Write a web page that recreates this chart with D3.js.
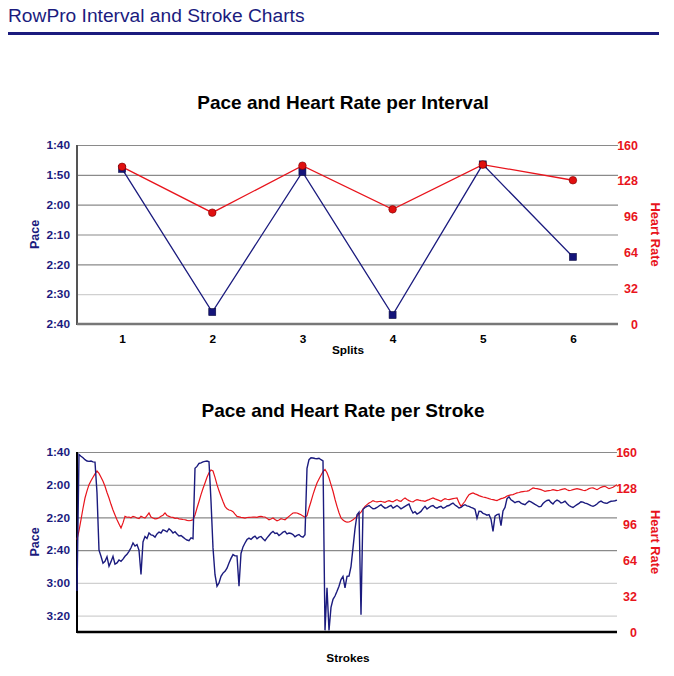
<!DOCTYPE html>
<html><head><meta charset="utf-8">
<script src="https://cdn.jsdelivr.net/npm/d3@7"></script>
<style>
body{margin:0;background:#fff;}
svg{display:block;font-family:"Liberation Sans",Arial,Helvetica,sans-serif;}
</style></head>
<body><svg id="c" width="674" height="676"></svg>
<script>
// ---- Data ----
const splits = [1, 2, 3, 4, 5, 6];
const splitPace = [108, 156, 109, 157, 106.5, 137.5];   // seconds per 500m
const splitHR = [140.5, 99.5, 141.5, 102.5, 142.5, 128.5];
const paceTicks = [100, 110, 120, 130, 140, 150, 160];
const hrTicks = [0, 32, 64, 96, 128, 160];
const strokePaceTicks = [100, 120, 140, 160, 180, 200];

const strokePace = [
 185,101.5,102.6,103.5,104.7,105.5,105.7,105.5,106,106.2,
 125,160,163.7,168,166.8,164,169.8,167,163.7,168.5,
 167.8,166,166.8,165.5,163.7,162.5,160.7,158.5,155.6,157.5,
 156.6,160,174.9,155,151.6,152.8,149.5,150.6,151,152,
 150.1,148.9,149.5,147.6,148.1,148.8,146.9,148,149.5,148.7,
 150.1,151.3,151,152,153,153.8,154.2,152.5,153,110,
 108.8,107,106.7,106,105.7,105.5,106,130,158.6,175,
 182,180,176,174,172.9,171,167.8,165,162.7,163.5,
 163.5,182,162,158,155.6,153.5,152.6,153.4,152.2,151.4,
 153,152,151.6,153,154.2,152.5,151,149.5,148.5,149.8,
 149.5,151,150.1,149,148.5,150,149.5,149.8,150.5,151.8,
 151,150.4,151.6,152,150.5,110,104.7,103.5,103.7,104,
 104.1,103.8,104.7,105.5,209,183,209,195,190,188,
 185.1,182,178,176,183,176,175.8,170,158.6,147,
 138.3,136.8,199.4,135,133.9,133.2,132.7,133.8,134.7,134.5,
 133.9,133,132.2,133.4,134.3,134,133.2,132.6,134.3,133.5,
 132.7,133.6,134.7,134,133.2,132.5,131.8,135,137.3,136.5,
 137.9,137.2,136.3,134.6,133.2,134.8,133.9,133.1,132.7,133.8,
 134.3,133.6,133.2,134.4,133.9,133,132.7,131.9,131.2,132.4,
 133.2,134.2,133.9,132.8,132.2,132.9,133.2,133.8,134.3,135,
 140.4,136.2,136.3,137.5,137.9,138.6,138.3,141,148.5,139.2,
 138.3,138,145,136,133.9,128.5,127.4,129.2,130,131,
 130.4,130.2,131.2,131.8,132.2,131,130,130.5,131.2,132,
 132.7,133.5,133.2,131.5,130.4,129.6,129.4,130.8,131.8,130.2,
 129.4,130,131.2,130.8,130,131.5,132.7,133.4,133.9,133,
 132.2,131.4,130.4,130.6,131.2,131.6,132.2,132.8,133.2,132.6,
 131.8,130.6,130,130.8,131.2,131.4,130.6,130.1,130,129.8,
 129.4
];
const strokeHR = [
 82.2,90,99.8,110,119.1,125.5,131,134.5,137.5,140.5,
 143.1,141,137.5,134,129.5,124,119.1,113.5,108.4,104,
 99.8,96,92.4,97,102.8,102,102.2,101.5,102.8,102.2,
 101.3,100.8,102.8,102,101.3,103.5,105.8,102.2,101.3,100.6,
 100.7,101.6,102.8,103.8,105.8,103.6,102.8,102,101.9,101,
 101.3,100.6,100.4,100,99.8,99.2,98.9,99.2,99.8,104,
 110.2,116,122.1,127.5,132.5,137.5,141.6,144,143.1,137.5,
 131,125.5,120.6,116,111.7,109.5,108.4,108,107,104.8,
 102.8,102.4,101.9,101.6,101.3,101.8,101.9,102,102.2,102.1,
 101.9,102.5,102.8,102.3,102.2,101,99.8,100.5,101.3,100,
 98.9,99.6,100.7,100.2,99.8,101.3,102.8,104.3,105.8,106,
 105.8,105,104.3,103,101.9,103.5,110.2,116,122.1,127.5,
 132.5,136,139.3,142.5,144.5,141.5,136.9,131,125.1,118,
 111.7,106,101.3,99.5,98.3,97.6,97.8,98.6,99.8,101.2,
 102.8,104.8,106.6,109.2,111.7,113.2,114.7,115.6,116.8,116,
 115.6,116,116.2,115.6,115.3,116.2,116.8,116.1,115.6,116.8,
 117.7,116.5,116.2,117.9,119.1,117.7,116.8,116,115.6,116.9,
 117.7,117.2,116.8,116.5,116.2,117,117.7,118.5,119.1,118.3,
 117.7,117,116.2,117.5,118.5,118,117.7,118.1,118.5,118.9,
 119.1,115,111.7,114,116.2,119.5,122.1,123,123.6,122.8,
 122.1,121.2,120.6,120,119.7,119.1,118.5,118,117.7,117.2,
 116.8,117.7,118.5,119,119.7,120.8,121.5,121.9,122.1,122.9,
 123.6,124,124.5,124.8,125.1,125.3,125.7,127,128.1,127.6,
 127.4,127,126.5,125.8,125.1,125.4,125.7,126,126.5,126.1,
 125.7,126,126.5,127,127.4,126.5,125.7,126,126.5,127,
 127.4,127,126.5,126,125.7,126.5,127.4,128,128.1,127.3,
 126.5,127.6,128.6,129.2,129.5,128.5,127.4,128,128.6,129.8,
 131
];

// ---- Styles ----
const NAVY = "#1b1b7e", RED = "#e8141c";
const FONT = "'Liberation Sans',Arial,sans-serif";
const svg = d3.select("#c");
const fmtPace = s => Math.floor(s / 60) + ":" + String(Math.round(s % 60)).padStart(2, "0");

// Header
svg.append("text").attr("x", 8).attr("y", 22).attr("font-size", 19.2)
  .attr("fill", NAVY).text("RowPro Interval and Stroke Charts");
svg.append("rect").attr("x", 8).attr("y", 32).attr("width", 651).attr("height", 3).attr("fill", NAVY);

function frame(cfg) {
  const g = svg.append("g");
  const {x0, x1, y0, y1, yPace, yHR, ticks, darkTicks, title, titleY, xLabel, xLabelY, axisColor, bottomColor} = cfg;
  g.append("text").attr("x", 343).attr("y", titleY).attr("text-anchor", "middle")
    .attr("font-size", 19).attr("font-weight", "bold").attr("fill", "#000").text(title);
  const grid = g.append("g").attr("transform", `translate(${x0},0)`)
    .call(d3.axisLeft(yPace).tickValues(ticks).tickSize(-(x1 - x0)).tickFormat(""));
  grid.select(".domain").remove();
  grid.selectAll(".tick line").attr("stroke", d => darkTicks.includes(d) ? "#8a8a8a" : "#d0d0d0").attr("stroke-width", 1.2);
  const la = g.append("g").attr("transform", `translate(${x0},0)`)
    .call(d3.axisLeft(yPace).tickValues(ticks).tickSize(0).tickPadding(7).tickFormat(fmtPace));
  la.select(".domain").remove();
  la.selectAll("text").attr("fill", NAVY).attr("font-size", 11.8).attr("font-weight", "bold").attr("font-family", FONT);
  const ra = g.append("g").attr("transform", `translate(${x1},0)`)
    .call(d3.axisRight(yHR).tickValues(hrTicks).tickSize(0).tickFormat(d3.format("d")));
  ra.select(".domain").remove();
  ra.selectAll("text").attr("fill", RED).attr("font-size", 12.5).attr("font-weight", "bold")
    .attr("text-anchor", "end").attr("x", 20).attr("font-family", FONT);
  g.append("line").attr("x1", x0).attr("x2", x0).attr("y1", y0).attr("y2", y1 + 1).attr("stroke", axisColor).attr("stroke-width", 2);
  g.append("line").attr("x1", x0).attr("x2", x1).attr("y1", y1).attr("y2", y1).attr("stroke", bottomColor).attr("stroke-width", 2.5);
  g.append("text").attr("transform", `translate(39,${(y0 + y1) / 2}) rotate(-90)`).attr("text-anchor", "middle")
    .attr("font-size", 12.5).attr("font-weight", "bold").attr("fill", NAVY).text("Pace");
  g.append("text").attr("transform", `translate(651,${(y0 + y1) / 2}) rotate(90)`).attr("text-anchor", "middle")
    .attr("font-size", 12.8).attr("font-weight", "bold").attr("fill", RED).text("Heart Rate");
  g.append("text").attr("x", 348).attr("y", xLabelY).attr("text-anchor", "middle")
    .attr("font-size", 11.8).attr("font-weight", "bold").attr("fill", "#000").text(xLabel);
  return g;
}

// ---- Chart 1 ----
{
  const x0 = 77, x1 = 618, y0 = 145, y1 = 324;
  const yPace = d3.scaleLinear().domain([100, 160]).range([y0, y1]);
  const yHR = d3.scaleLinear().domain([0, 160]).range([y1, y0]);
  const x = d3.scalePoint().domain(splits).range([x0, x1]).padding(0.5);
  const g = frame({x0, x1, y0, y1, yPace, yHR, ticks: paceTicks, darkTicks: [100, 110, 120, 130, 140],
    title: "Pace and Heart Rate per Interval", titleY: 109, xLabel: "Splits", xLabelY: 354,
    axisColor: "#555", bottomColor: "#777"});
  const xa = g.append("g").attr("transform", `translate(0,${y1})`).call(d3.axisBottom(x).tickSize(0).tickPadding(11));
  xa.select(".domain").remove();
  xa.selectAll("text").attr("fill", "#000").attr("font-size", 11.8).attr("font-weight", "bold").attr("font-family", FONT);
  g.append("path").datum(splitPace).attr("fill", "none").attr("stroke", NAVY).attr("stroke-width", 1.3)
    .attr("d", d3.line().x((d, i) => x(splits[i])).y(d => yPace(d)));
  g.append("path").datum(splitHR).attr("fill", "none").attr("stroke", RED).attr("stroke-width", 1.3)
    .attr("d", d3.line().x((d, i) => x(splits[i])).y(d => yHR(d)));
  g.selectAll("rect.pm").data(splitPace).join("rect").attr("class", "pm")
    .attr("x", (d, i) => x(splits[i]) - 3.5).attr("y", d => yPace(d) - 3.5).attr("width", 7).attr("height", 7)
    .attr("fill", "#14147a").attr("stroke", "#0a0a40").attr("stroke-width", 0.6);
  g.selectAll("circle.hm").data(splitHR).join("circle").attr("class", "hm")
    .attr("cx", (d, i) => x(splits[i])).attr("cy", d => yHR(d)).attr("r", 3.8)
    .attr("fill", "#e01010").attr("stroke", "#700").attr("stroke-width", 0.6);
}

// ---- Chart 2 ----
{
  const x0 = 77, x1 = 617, y0 = 452, y1 = 632;
  const yPace = d3.scaleLinear().domain([100, 210]).range([y0, y1]).clamp(true);
  const yHR = d3.scaleLinear().domain([0, 160]).range([y1, y0]);
  const x = d3.scaleLinear().domain([0, strokePace.length - 1]).range([x0, x1]);
  const g = frame({x0, x1, y0, y1, yPace, yHR, ticks: strokePaceTicks, darkTicks: [100, 120, 140, 160],
    title: "Pace and Heart Rate per Stroke", titleY: 417, xLabel: "Strokes", xLabelY: 662,
    axisColor: "#000", bottomColor: "#000"});
  g.append("path").datum(strokeHR).attr("fill", "none").attr("stroke", RED).attr("stroke-width", 1.2)
    .attr("d", d3.line().x((d, i) => x(i)).y(d => yHR(d)));
  g.append("path").datum(strokePace).attr("fill", "none").attr("stroke", NAVY).attr("stroke-width", 1.4)
    .attr("d", d3.line().x((d, i) => x(i)).y(d => yPace(d)));
}
</script></body></html>
